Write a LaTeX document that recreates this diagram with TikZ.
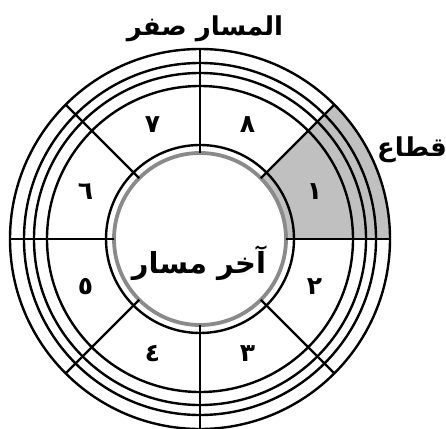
\documentclass[tikz,border=0pt]{standalone}
\usepackage{fontspec}
\newfontfamily\arabicfont[Script=Arabic]{DejaVu Sans}
\TeXXeTstate=1
\definecolor{shadegray}{HTML}{C0C0C0}
\definecolor{ringgray}{HTML}{8A8A8A}
\begin{document}
\begin{tikzpicture}[x=1pt,y=1pt,
  ring/.style={draw=black,line width=2.4pt},
  spoke/.style={draw=black,line width=2.2pt},
  digit/.style={font=\arabicfont\bfseries\fontsize{25}{25}\selectfont,inner sep=0pt},
  label/.style={font=\arabicfont\bfseries\fontsize{26}{26}\selectfont,inner sep=0pt}]
\useasboundingbox (-200,-189) rectangle (246,239);
% shaded sector
\fill[shadegray] (0:86) arc[start angle=0,end angle=45,radius=86] -- (45:190) arc[start angle=45,end angle=0,radius=190] -- cycle;
% rings
\foreach \r in {190,176,166,153,94} {\draw[ring] (0,0) circle[radius=\r];}
\draw[draw=ringgray,line width=3.8pt] (0,0) circle[radius=86];
% spokes
\foreach \a in {0,45,...,315} {\draw[spoke] (\a:86) -- (\a:190);}
% digits
\node[digit] (d1) at (22.5:124) {\beginR ١\endR};
\node[digit] (d2) at (-22.5:124) {\beginR ٢\endR};
\node[digit] (d3) at (-67.5:124) {\beginR ٣\endR};
\node[digit] (d4) at (-112.5:124) {\beginR ٤\endR};
\node[digit] (d5) at (-157.5:124) {\beginR ٥\endR};
\node[digit] (d6) at (157.5:124) {\beginR ٦\endR};
\node[digit] (d7) at (112.5:124) {\beginR ٧\endR};
\node[digit] (d8) at (67.5:124) {\beginR ٨\endR};
% labels
\node[label] (track0) at (5,210) {\beginR المسار صفر\endR};
\node[label] (sector) at (212,89) {\beginR قطاع\endR};
\node[label,font=\arabicfont\bfseries\fontsize{29}{29}\selectfont] (lasttrack) at (-1,-24) {\beginR آخر مسار\endR};
\end{tikzpicture}
\end{document}
